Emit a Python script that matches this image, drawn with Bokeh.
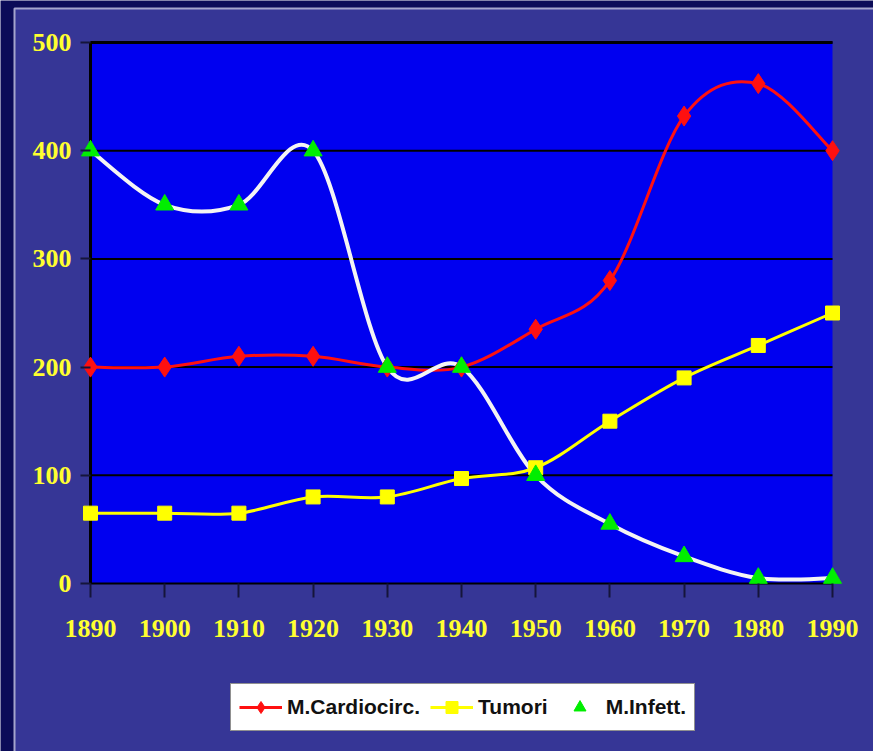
import numpy as np
from bokeh.plotting import figure
from bokeh.models import Range1d, Legend, LegendItem, FixedTicker
from bokeh.embed import file_html
from bokeh.resources import INLINE

years = [1890, 1900, 1910, 1920, 1930, 1940, 1950, 1960, 1970, 1980, 1990]
cardio = [200, 200, 210, 210, 200, 200, 235, 280, 432, 462, 400]
tumori = [65, 65, 65, 80, 80, 97, 107, 150, 190, 220, 250]
infett = [400, 350, 350, 400, 200, 200, 100, 55, 25, 5, 5]
y_ticks = [0, 100, 200, 300, 400, 500]
labels = ["M.Cardiocirc.", "Tumori", "M.Infett."]

PANEL = "#363696"
DARK = "#0b0b58"
BLUE = "#0000f0"

# layout (pixels of the page)
W, H = 873, 751
X0PX, X1PX = 90, 832     # where the first and last year sit
Y0PX, Y1PX = 583, 42     # where 0 and 500 sit
sx = (X1PX - X0PX) / (years[-1] - years[0])
sy = (Y0PX - Y1PX) / (y_ticks[-1] - y_ticks[0])
x_start = years[0] - X0PX / sx
x_end = years[0] + (W - X0PX) / sx
y_start = y_ticks[0] - (H - Y0PX) / sy
y_end = y_ticks[0] + Y0PX / sy


def px_x(px):
    return x_start + px / sx


def px_y(py):
    return y_end - py / sy


def smooth(xs, ys):
    x = np.array(xs, float)
    y = np.array(ys, float)
    n = len(x)
    xp = np.concatenate([[x[0]], x, [x[-1]]])
    yp = np.concatenate([[y[0]], y, [y[-1]]])
    cx0 = x[:-1] + (xp[2:n + 1] - xp[0:n - 1]) / 6
    cy0 = y[:-1] + (yp[2:n + 1] - yp[0:n - 1]) / 6
    cx1 = x[1:] - (xp[3:n + 2] - xp[1:n]) / 6
    cy1 = y[1:] - (yp[3:n + 2] - yp[1:n]) / 6
    return dict(x0=x[:-1], y0=y[:-1], x1=x[1:], y1=y[1:],
                cx0=cx0, cy0=cy0, cx1=cx1, cy1=cy1)


p = figure(width=W, height=H, output_backend="svg", toolbar_location=None,
           x_range=Range1d(x_start, x_end), y_range=Range1d(y_start, y_end),
           min_border_left=0, min_border_right=0, min_border_top=0,
           min_border_bottom=0)
p.background_fill_color = DARK
p.border_fill_color = DARK
p.outline_line_color = None
p.grid.visible = False

# slide panel
p.quad(left=px_x(14), right=x_end + 5, bottom=y_start - 5, top=px_y(8),
       fill_color=PANEL, line_color="#a4a4cc", line_width=2)

# plot area
p.quad(left=years[0], right=years[-1], bottom=y_ticks[0], top=y_ticks[-1],
       fill_color=BLUE, line_color=None)
p.segment(x0=[years[0]] * len(y_ticks), x1=[years[-1]] * len(y_ticks),
          y0=y_ticks, y1=y_ticks, line_color="black", line_width=2)
p.segment(x0=[years[0]], x1=[years[-1]], y0=[y_ticks[-1]], y1=[y_ticks[-1]],
          line_color="black", line_width=3)
p.segment(x0=[years[0]], x1=[years[0]], y0=[y_ticks[0]], y1=[y_ticks[-1]],
          line_color="black", line_width=3)

sc = smooth(years, cardio)
st = smooth(years, tumori)
si = smooth(years, infett)
lc = p.bezier(line_color="#ff1010", line_width=3, **sc)
lt = p.bezier(line_color="#ffff00", line_width=3, **st)
li = p.bezier(line_color="#f4f4f4", line_width=4, **si)

mc = p.scatter(years, cardio, marker="diamond", size=20, fill_color="#ff1010",
               line_color="#ff1010")
mt = p.scatter(years, tumori, marker="square", size=14, fill_color="#ffff00",
               line_color="#ffff00")
mi = p.scatter(years, infett, marker="triangle", size=18, fill_color="#00ee00",
               line_color="#00ee00")

# axes, fixed at the edges of the plot area
for ax in (p.xaxis[0], p.yaxis[0]):
    ax.axis_line_color = None
    ax.major_tick_line_color = "#15153a"
    ax.major_tick_line_width = 2
    ax.minor_tick_line_color = None
    ax.major_label_text_color = "#ffff30"
    ax.major_label_text_font = "'Liberation Serif'"
    ax.major_label_text_font_style = "bold"
    ax.major_label_text_font_size = "26px"

p.xaxis.fixed_location = y_ticks[0]
p.xaxis.ticker = FixedTicker(ticks=years)
p.xaxis.major_tick_in = 0
p.xaxis.major_tick_out = 14
p.xaxis.major_label_standoff = 22

p.yaxis.fixed_location = years[0]
p.yaxis.ticker = FixedTicker(ticks=y_ticks)
p.yaxis.major_tick_in = 0
p.yaxis.major_tick_out = 10
p.yaxis.major_label_standoff = 9

legend = Legend(items=[LegendItem(label=labels[0], renderers=[lc, mc]),
                       LegendItem(label=labels[1], renderers=[lt, mt]),
                       LegendItem(label=labels[2], renderers=[mi])],
                orientation="horizontal", location=(230, 20))
legend.background_fill_color = "white"
legend.background_fill_alpha = 1
legend.border_line_color = "#222222"
legend.border_line_width = 1
legend.label_text_font = "'Liberation Sans'"
legend.label_text_font_style = "bold"
legend.label_text_font_size = "21px"
legend.label_text_color = "#111111"
legend.glyph_width = 43
legend.glyph_height = 30
legend.label_height = 30
legend.label_standoff = 5
legend.spacing = 10
legend.padding = 8
legend.margin = 0
p.add_layout(legend, "center")

open("out.html", "w").write(file_html(p, INLINE))
